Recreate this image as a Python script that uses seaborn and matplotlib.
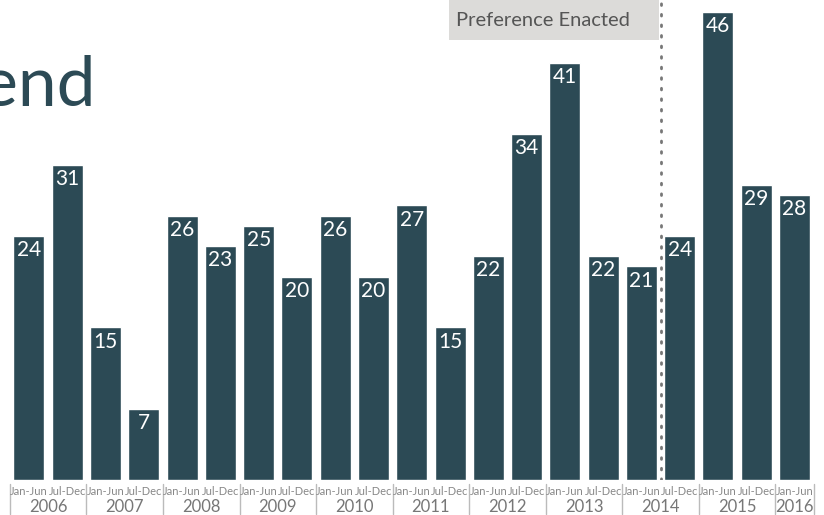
import matplotlib
matplotlib.use("Agg")
import matplotlib.pyplot as plt
import seaborn as sns
import pandas as pd

# half-year counts, Jan-Jun 2006 .. Jan-Jun 2016
years = ["2006", "2007", "2008", "2009", "2010", "2011",
         "2012", "2013", "2014", "2015", "2016"]
halves = ["Jan-Jun", "Jul-Dec"]
counts = [24, 31, 15, 7, 26, 23, 25, 20, 26, 20, 27,
          15, 22, 34, 41, 22, 21, 24, 46, 29, 28]
event_label = "Preference Enacted"
event_after = "2014 Jan-Jun"
title = "Trend"

periods = [f"{y} {h}" for y in years for h in halves][:len(counts)]
df = pd.DataFrame({"period": periods, "count": counts})

bar_color = "#2c4a55"
sns.set_style("white")
plt.rcParams["font.family"] = ["Lato", "DejaVu Sans"]

fig = plt.figure(figsize=(8.24, 5.15), dpi=100)
ax = fig.add_axes([0, 35 / 515, 1, 480 / 515])

sns.barplot(data=df, x="period", y="count", order=periods, color=bar_color,
            saturation=1, width=0.81, ax=ax)

ax.set_xlim(-0.757, 20.77)
ax.set_ylim(0, 47.2)
ax.set_xlabel("")
ax.set_ylabel("")
ax.set_xticks([])
ax.set_yticks([])
sns.despine(ax=ax, left=True, right=True, top=True, bottom=True)

# value labels inside bar tops
for i, v in enumerate(counts):
    ax.annotate(str(v), (i, v), xytext=(0, -3), textcoords="offset points",
                ha="center", va="top", color="white", fontsize=15)

# two-level x axis
trans = ax.get_xaxis_transform()
for i, p in enumerate(periods):
    ax.text(i, -0.023, p.split(" ")[1], transform=trans, ha="center",
            va="center", fontsize=8, color="#888888", clip_on=False)
for j, y in enumerate(years):
    idx = [k for k, p in enumerate(periods) if p.startswith(y)]
    ax.text(sum(idx) / len(idx), -0.057, y, transform=trans, ha="center",
            va="center", fontsize=12, color="#777777", clip_on=False)
    ax.plot([idx[0] - 0.5] * 2, [-0.008, -0.07], transform=trans,
            color="#bbbbbb", lw=1, clip_on=False)
ax.plot([len(periods) - 0.5] * 2, [-0.008, -0.07], transform=trans,
        color="#bbbbbb", lw=1, clip_on=False)

# event marker
ex = periods.index(event_after) + 0.5
ax.axvline(ex, color="#777777", lw=2, linestyle=(0, (0.6, 3.2)),
           dash_capstyle="round")
ax.axvspan(10.97, ex - 0.05, ymin=1 - 40 / 480, ymax=1, color="#dcdbd9", lw=0)
ax.text(11.15, 1 - 21 / 480, event_label, transform=trans, ha="left",
        va="center", fontsize=14.5, color="#555555")

fig.text(95 / 824, 1 - 87 / 515, title, ha="right", va="center",
         fontsize=50, color=bar_color)

fig.savefig("out.png", dpi=100)
